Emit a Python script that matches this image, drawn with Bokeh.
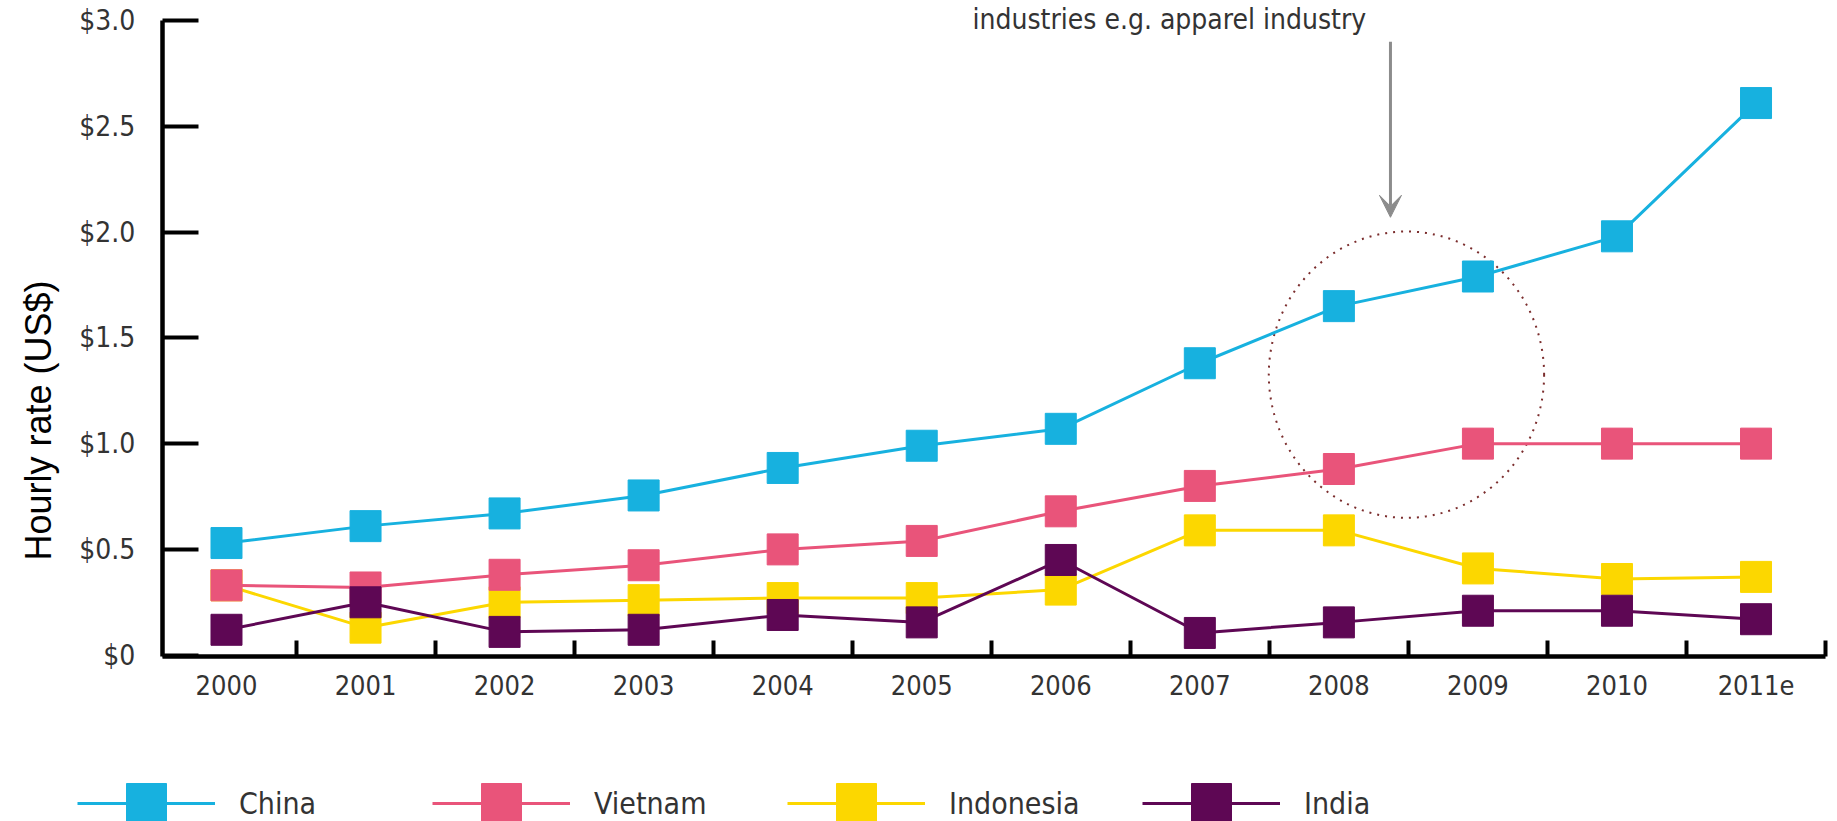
import math
from bokeh.plotting import figure
from bokeh.models import (FixedTicker, Legend, LegendItem, Label, Arrow, VeeHead,
                          Range1d, LinearAxis)
from bokeh.embed import file_html
from bokeh.resources import INLINE

# ---------------- data ----------------
years = ["2000", "2001", "2002", "2003", "2004", "2005", "2006", "2007",
         "2008", "2009", "2010", "2011e"]
china = [0.53, 0.61, 0.67, 0.755, 0.885, 0.99, 1.07, 1.38, 1.65, 1.79, 1.98, 2.61]
vietnam = [0.33, 0.32, 0.38, 0.425, 0.50, 0.54, 0.68, 0.80, 0.88, 1.00, 1.00, 1.00]
indonesia = [0.33, 0.13, 0.25, 0.26, 0.27, 0.27, 0.31, 0.59, 0.59, 0.41, 0.36, 0.37]
india = [0.12, 0.25, 0.11, 0.12, 0.19, 0.155, 0.45, 0.105, 0.155, 0.21, 0.21, 0.17]

series_names = ["China", "Vietnam", "Indonesia", "India"]
series_colors = ["#17B1DF", "#E9547A", "#FCD700", "#5E0754"]

y_ticks = [0, 0.5, 1.0, 1.5, 2.0, 2.5, 3.0]
y_tick_labels = ["$0", "$0.5", "$1.0", "$1.5", "$2.0", "$2.5", "$3.0"]

y_title = "Hourly rate (US$)"
note_text = "industries e.g. apparel industry"

# axis extents (data units)
x_lo, x_hi = -0.462, 11.5
y_lo, y_hi = -0.008, 3.0

# highlight circle (data units) and arrow
circle_x, circle_y, circle_w, circle_h = 8.486, 1.326, 1.98, 1.355
arrow_x, arrow_y0, arrow_y1 = 8.371, 2.90, 2.07

COND = "DejaVu Sans Condensed"

x = list(range(len(years)))

p = figure(width=1837, height=821, output_backend="svg", toolbar_location=None,
           x_range=Range1d(-1.6253, 11.586), y_range=Range1d(-0.7863, 3.0948),
           x_axis_type=None, y_axis_type=None,
           min_border=0, min_border_left=0, min_border_right=0,
           min_border_top=0, min_border_bottom=0)
p.outline_line_color = None
p.background_fill_color = "white"
p.border_fill_color = "white"

# ---- x axis ----
xa = LinearAxis(fixed_location=y_lo, bounds=(x_lo, x_hi))
xa.ticker = FixedTicker(ticks=x, minor_ticks=[i + 0.5 for i in x])
xa.major_label_overrides = {i: years[i] for i in x}
xa.major_tick_line_color = None
xa.minor_tick_in = 16
xa.minor_tick_out = 0
xa.minor_tick_line_width = 4
xa.minor_tick_line_color = "black"
xa.axis_line_width = 4.5
xa.axis_line_color = "black"
xa.major_label_text_font = COND
xa.major_label_text_font_size = "27px"
xa.major_label_text_color = "#333333"
xa.major_label_standoff = 12
p.add_layout(xa, "below")

# ---- y axis ----
ya = LinearAxis(fixed_location=x_lo, bounds=(y_lo, y_hi))
ya.ticker = FixedTicker(ticks=y_ticks, minor_ticks=[])
ya.major_label_overrides = {t: l for t, l in zip(y_ticks, y_tick_labels)}
ya.major_tick_in = 36
ya.major_tick_out = 0
ya.major_tick_line_width = 4
ya.major_tick_line_color = "black"
ya.minor_tick_line_color = None
ya.axis_line_width = 4.5
ya.axis_line_color = "black"
ya.major_label_text_font = COND
ya.major_label_text_font_size = "28px"
ya.major_label_text_color = "#333333"
ya.major_label_standoff = 27
p.add_layout(ya, "left")

# ---- highlight circle ----
p.ellipse(x=[circle_x], y=[circle_y], width=[circle_w], height=[circle_h],
          fill_color=None, line_color="#7b2d2d", line_width=2, line_dash="2 6")

# ---- series (draw order so India on top) ----
data = {"China": china, "Vietnam": vietnam, "Indonesia": indonesia, "India": india}
renderers = {}
for name in ["Indonesia", "Vietnam", "China", "India"]:
    c = series_colors[series_names.index(name)]
    l = p.line(x, data[name], line_color=c, line_width=3)
    s = p.scatter(x, data[name], marker="square", size=31, fill_color=c, line_color=c)
    renderers[name] = [l, s]

legend = Legend(items=[LegendItem(label=n, renderers=renderers[n]) for n in series_names],
                orientation="horizontal", location=(77, -32),
                glyph_width=138, glyph_height=100, label_standoff=24,
                label_width=138, spacing=55, padding=0, margin=0,
                border_line_alpha=0, background_fill_alpha=0,
                label_text_font=COND, label_text_font_size="30px",
                label_text_color="#333333")
p.add_layout(legend, "center")

# ---- y title as label ----
p.add_layout(Label(x=-1.352, y=1.109, text=y_title, angle=math.pi / 2,
                   text_align="center", text_baseline="middle",
                   text_font="Liberation Sans", text_font_size="36px",
                   text_color="black"))

# ---- annotation ----
p.add_layout(Label(x=5.365, y=3.003, text=note_text, text_align="left",
                   text_baseline="middle", text_font=COND,
                   text_font_size="28px", text_color="#333333"))
p.add_layout(Arrow(x_start=arrow_x, y_start=arrow_y0, x_end=arrow_x, y_end=arrow_y1,
                   line_color="#8c8c8c", line_width=3,
                   end=VeeHead(size=22, fill_color="#8c8c8c", line_color="#8c8c8c")))

open("out.html", "w").write(file_html(p, INLINE))
